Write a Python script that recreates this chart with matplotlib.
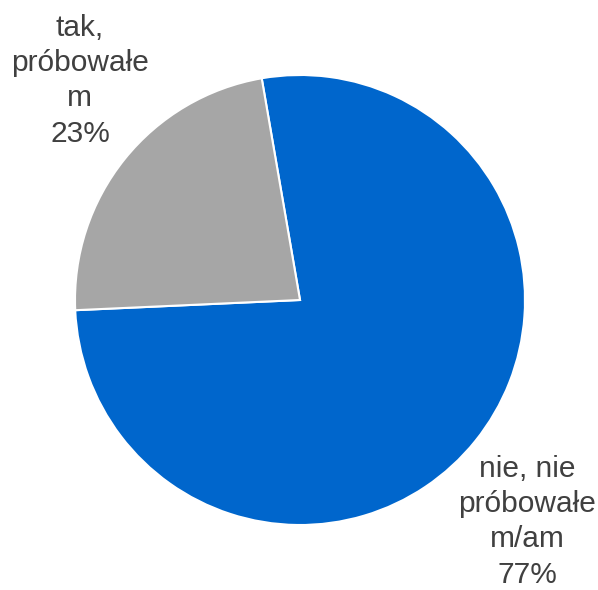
import matplotlib
matplotlib.use('Agg')
import matplotlib.pyplot as plt

# Dane
etykiety = ['nie, nie\npróbowałe\nm/am', 'tak,\npróbowałe\nm']
wartosci = [77, 23]
kolory = ['#0066CC', '#A6A6A6']

plt.rcParams['font.family'] = ['Liberation Sans', 'DejaVu Sans']

fig = plt.figure(figsize=(5.98, 5.90), dpi=100)
ax = fig.add_axes([75 / 598, 65 / 590, 450 / 598, 450 / 590])

# pierwszy wycinek zaczyna się nieco w lewo od pionu, zgodnie z ruchem wskazówek
ax.pie(wartosci, colors=kolory, startangle=99.8, counterclock=False,
       wedgeprops=dict(edgecolor='white', linewidth=1.5))
ax.set_xlim(-1, 1)
ax.set_ylim(-1, 1)
ax.set_aspect('equal')
ax.axis('off')

# Etykiety z procentami
pozycje = [(1.01, -0.985), (-0.978, 0.975)]
for tekst, v, (x, y) in zip(etykiety, wartosci, pozycje):
    ax.text(x, y, f'{tekst}\n{v}%', ha='center', va='center', fontsize=21.5,
            color='#404040', linespacing=1.33, clip_on=False)

fig.savefig('out.png', dpi=100)
